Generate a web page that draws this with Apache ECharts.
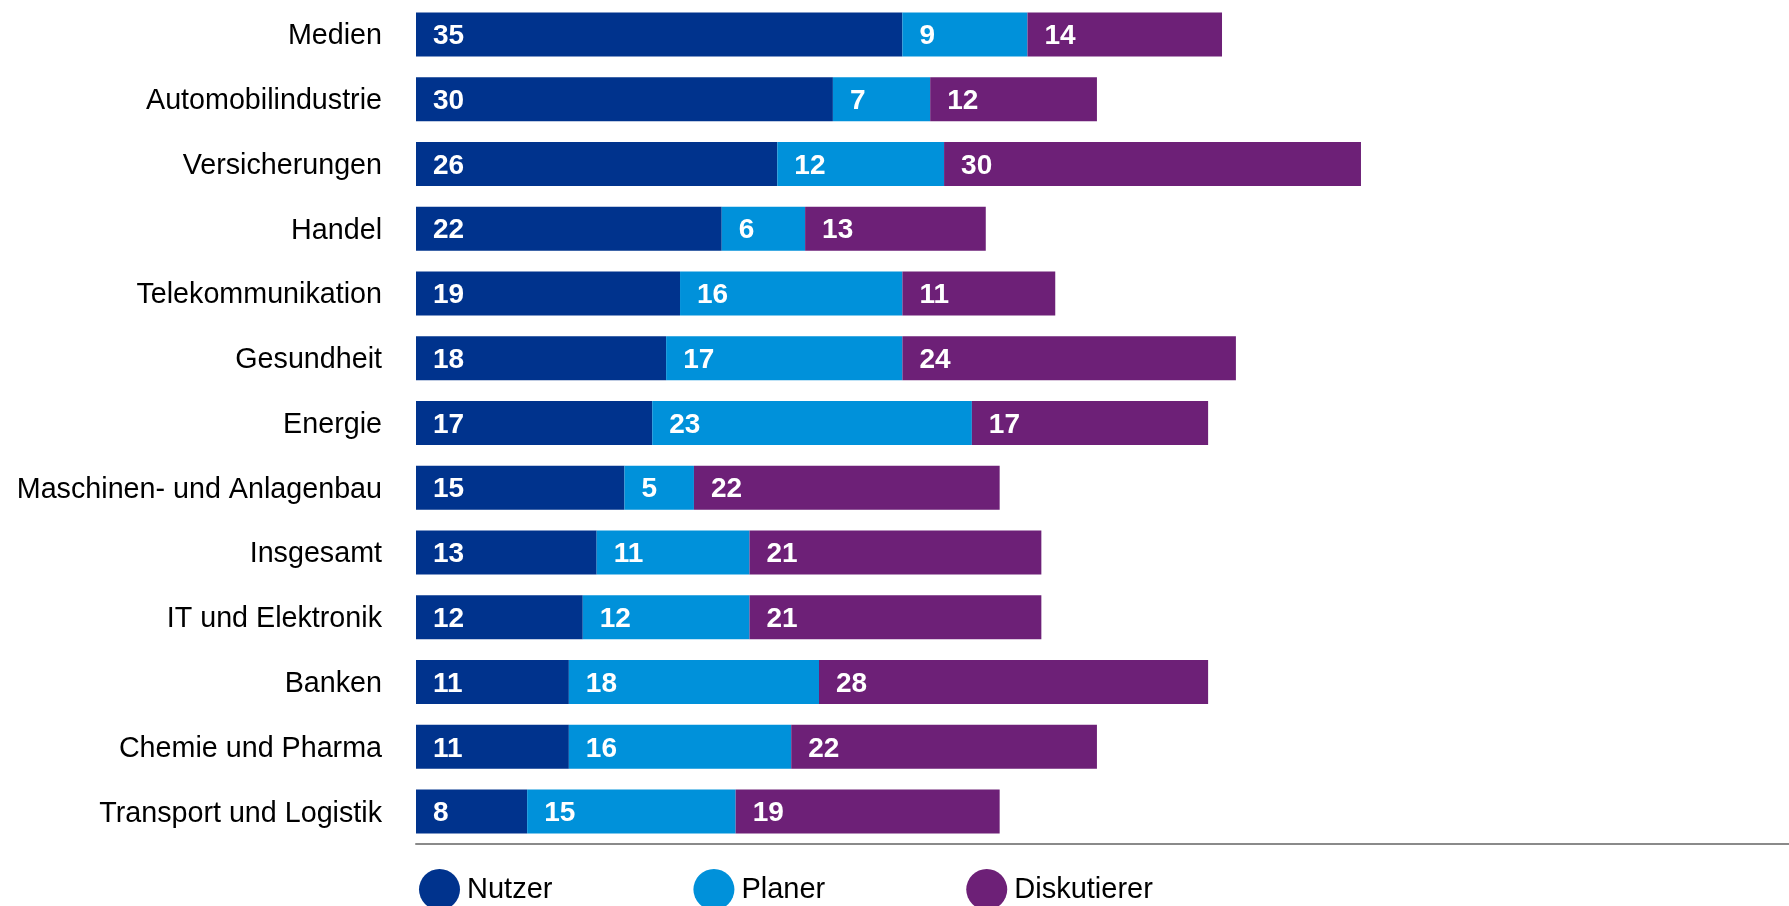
<!DOCTYPE html>
<html>
<head>
<meta charset="utf-8">
<script src="https://cdn.jsdelivr.net/npm/echarts@6/dist/echarts.min.js"></script>
<style>
html,body{margin:0;padding:0;background:#fff;}
#chart{width:1789px;height:906px;}
</style>
</head>
<body>
<div id="chart"></div>
<script>
const categories = ["Medien","Automobilindustrie","Versicherungen","Handel","Telekommunikation","Gesundheit","Energie","Maschinen- und Anlagenbau","Insgesamt","IT und Elektronik","Banken","Chemie und Pharma","Transport und Logistik"];
const nutzer =      [35,30,26,22,19,18,17,15,13,12,11,11,8];
const planer =      [9,7,12,6,16,17,23,5,11,12,18,16,15];
const diskutierer = [14,12,30,13,11,24,17,22,21,21,28,22,19];
const seriesNames = ["Nutzer","Planer","Diskutierer"];
const colors = ["#00338D","#0091DA","#6D2077"];

const font = "'Liberation Sans', Arial, Helvetica, sans-serif";
const chart = echarts.init(document.getElementById('chart'), null, {renderer:'canvas'});
const mk = (name, data, color) => ({
  name, type:'bar', stack:'total', data, barWidth:44,
  itemStyle:{color},
  label:{show:true, position:'insideLeft', distance:17, offset:[0,2], color:'#fff', fontWeight:'bold', fontSize:28, fontFamily:font},
  emphasis:{disabled:true}
});
chart.setOption({
  animation:false,
  textStyle:{fontFamily:font},
  grid:{left:416, top:2, right:0, height:842},
  xAxis:{type:'value', min:0, max:98.8, axisLabel:{show:false}, splitLine:{show:false}, axisTick:{show:false},
    axisLine:{show:true, onZero:false, lineStyle:{color:'#8a8a8a', width:2}}},
  yAxis:{type:'category', inverse:true, data:categories, axisLine:{show:false}, axisTick:{show:false},
    axisLabel:{fontSize:28.7, color:'#000', margin:34, verticalAlign:'top', lineHeight:4, fontFamily:font}},
  legend:{left:414, top:864, icon:'circle', itemWidth:45, itemHeight:41, itemGap:141,
    textStyle:{fontSize:29, color:'#000', fontFamily:font}, data:seriesNames},
  series:[mk(seriesNames[0], nutzer, colors[0]), mk(seriesNames[1], planer, colors[1]), mk(seriesNames[2], diskutierer, colors[2])]
});
</script>
</body>
</html>
